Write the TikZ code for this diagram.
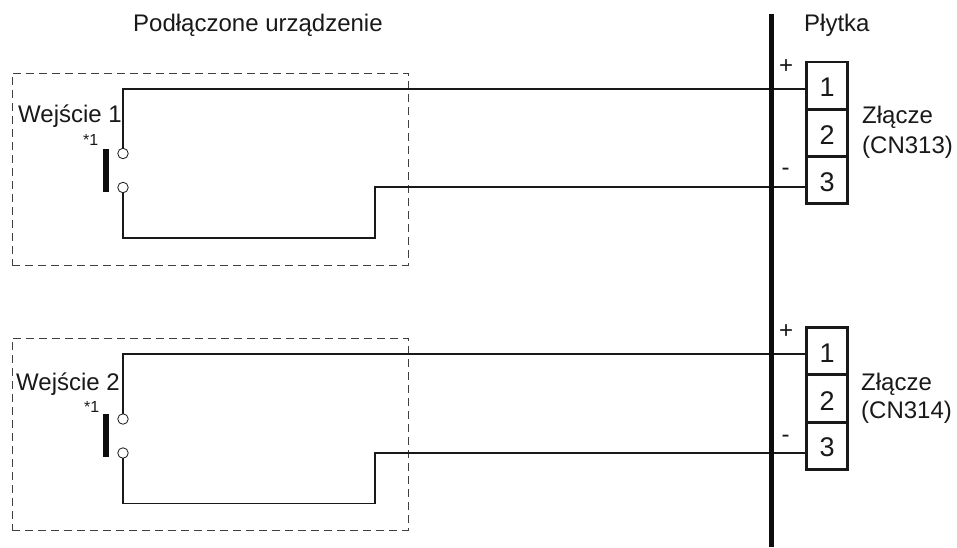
\documentclass[tikz,border=0pt]{standalone}
\usepackage{fontspec}
\setmainfont{Liberation Sans}
\tikzset{
  lbl/.style={inner sep=0pt,anchor=base west,font=\fontsize{24}{28}\selectfont,text=black!90},
  sign/.style={inner sep=0pt,anchor=base,font=\fontsize{24}{28}\selectfont,text=black!90},
  small/.style={inner sep=0pt,anchor=base west,font=\fontsize{16}{18}\selectfont,text=black!90},
  pin/.style={draw=black!90,line width=2.8pt,minimum width=41pt,minimum height=47.3pt,inner sep=0pt,outer sep=0pt},
  digit/.style={inner sep=0pt,anchor=base,font=\fontsize{27}{30}\selectfont,text=black!90},
  contact/.style={circle,draw=black!90,line width=0.8pt,fill=white,minimum size=10.5pt,inner sep=0pt,outer sep=0pt},
  wire/.style={draw=black!90,line width=1.3pt},
  frame/.style={draw=black!75,line width=1pt,dash pattern=on 8pt off 5pt,minimum width=396pt,minimum height=192pt,inner sep=0pt,outer sep=0pt},
  bar/.style={fill=black!95,draw=none,minimum width=5.5pt,minimum height=43pt,inner sep=0pt,outer sep=0pt},
  rail/.style={draw=black!95,line width=5pt}
}
\begin{document}
\begin{tikzpicture}[x=1pt,y=-1pt]
\useasboundingbox (0,0) rectangle (957,547);
\fill[white] (0,0) rectangle (957,547);
% frames
\node[frame] (frameA) at (210,169) {};
\node[frame] (frameB) at (210,434) {};
% headings
\node[lbl] (hdev) at (133,31) {Podłączone urządzenie};
\node[lbl] (hboard) at (804,31) {Płytka};
% rail
\coordinate (railT) at (771.5,14);
\coordinate (railB) at (771.5,547);
% connectors
\node[pin] (a1) at (827,85.6) {};
\node[pin] (a2) at (827,132.9) {};
\node[pin] (a3) at (827,180.2) {};
\node[pin] (b1) at (827,351.2) {};
\node[pin] (b2) at (827,398.5) {};
\node[pin] (b3) at (827,445.8) {};
\node[digit] (da1) at (827,96.7) {1};
\node[digit] (da2) at (827,144) {2};
\node[digit] (da3) at (827,191.7) {3};
\node[digit] (db1) at (827,362.7) {1};
\node[digit] (db2) at (827,410) {2};
\node[digit] (db3) at (827,456.7) {3};
% contacts
\node[contact] (ca1) at (123,153.5) {};
\node[contact] (ca2) at (123,187.5) {};
\node[contact] (cb1) at (123,419) {};
\node[contact] (cb2) at (123,453) {};
\node[bar] (ba) at (106,170.5) {};
\node[bar] (bb) at (106,435.5) {};
% wire corners
\coordinate (ta) at (123,89);
\coordinate (la) at (123,238);
\coordinate (ma) at (375,238);
\coordinate (na) at (375,187);
\coordinate (tb) at (123,354);
\coordinate (lb) at (123,503.5);
\coordinate (mb) at (375,503.5);
\coordinate (nb) at (375,453);
% wires
\draw[wire] (ca1.north) -- (ta) -- (a1.west |- ta);
\draw[wire] (ca2.south) -- (la) -- (ma) -- (na) -- (a3.west |- na);
\draw[wire] (cb1.north) -- (tb) -- (b1.west |- tb);
\draw[wire] (cb2.south) -- (lb) -- (mb) -- (nb) -- (b3.west |- nb);
\draw[rail] (railT) -- (railB);
% labels
\node[lbl] (ina) at (18,122) {Wejście 1};
\node[lbl] (inb) at (16,390.7) {Wejście 2};
\node[small] (sa) at (83,145) {*1};
\node[small] (sb) at (84,412.7) {*1};
\node[sign] (pa) at (786,73) {+};
\node[sign] (ma2) at (785.5,175) {-};
\node[sign] (pb) at (786,338) {+};
\node[sign] (mb2) at (785.5,442) {-};
\node[lbl] (za) at (862,123) {Złącze};
\node[lbl] (zna) at (862,153) {(CN313)};
\node[lbl] (zb) at (861,390) {Złącze};
\node[lbl] (znb) at (861,418) {(CN314)};
\end{tikzpicture}
\end{document}
